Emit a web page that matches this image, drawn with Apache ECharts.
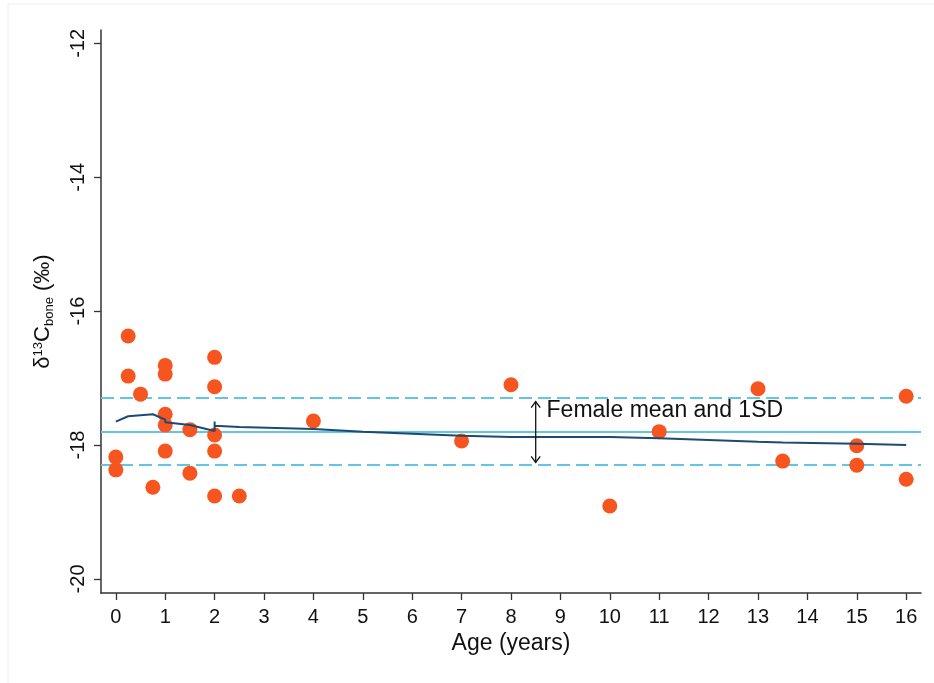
<!DOCTYPE html>
<html>
<head>
<meta charset="utf-8">
<script src="https://cdn.jsdelivr.net/npm/echarts@6/dist/echarts.min.js"></script>
<style>
  html, body { margin: 0; padding: 0; background: #fff; }
  #chart { width: 934px; height: 683px; }
</style>
</head>
<body>
<div id="chart"></div>
<script>
// individual measurements: [age (years), d13C bone]
const samples = [
  [0, -18.18], [0, -18.37], [0.25, -16.37], [0.25, -16.97], [0.5, -17.24],
  [0.75, -18.63], [1, -16.81], [1, -16.94], [1, -17.54], [1, -17.70],
  [1, -18.09], [1.5, -17.77], [1.5, -18.42], [2, -16.69], [2, -17.13],
  [2, -17.85], [2, -18.09], [2, -18.76], [2.5, -18.76], [4, -17.64],
  [7, -17.94], [8, -17.10], [10, -18.91], [11, -17.80], [13, -17.16],
  [13.5, -18.24], [15, -18.01], [15, -18.30], [16, -17.27], [16, -18.51]
]

// smoothed fit through the samples
const fitLine = [
  [0, -17.65], [0.25, -17.57], [0.75, -17.54], [1, -17.62], [1, -17.66],
  [1.5, -17.70], [1.5, -17.68], [2, -17.79], [2, -17.65], [2, -17.71],
  [2.5, -17.73], [4, -17.76], [5, -17.80], [7, -17.86], [8, -17.88],
  [10, -17.88], [11, -17.90], [13, -17.95], [13.5, -17.96], [15, -17.98],
  [16, -18.00]
]

// female reference
const femaleMean = -17.8
const femaleSD = 0.5

// annotation: double arrow + label
const arrowX = 8.5
const arrowEnds = [-17.35, -18.26]
const noteText = 'Female mean and 1SD'
const notePos = [8.72, -17.49]

const xTicks = [0, 1, 2, 3, 4, 5, 6, 7, 8, 9, 10, 11, 12, 13, 14, 15, 16]
const yTicks = [-20, -18, -16, -14, -12]

const chart = echarts.init(document.getElementById('chart'))

const font = 'Liberation Sans, Arial, Helvetica, sans-serif'
const axisColor = '#333'
const lightBlue = '#62c6e2'

function renderNote(params, api) {
  const top = api.coord([arrowX, arrowEnds[0]])
  const bot = api.coord([arrowX, arrowEnds[1]])
  const txt = api.coord(notePos)
  const h = 6, w = 4.5
  const st = { stroke: '#111', lineWidth: 1.3, fill: null }
  return {
    type: 'group',
    children: [
      { type: 'line', shape: { x1: top[0], y1: top[1], x2: bot[0], y2: bot[1] }, style: st },
      { type: 'polyline', shape: { points: [[top[0] - w, top[1] + h], [top[0], top[1]], [top[0] + w, top[1] + h]] }, style: st },
      { type: 'polyline', shape: { points: [[bot[0] - w, bot[1] - h], [bot[0], bot[1]], [bot[0] + w, bot[1] - h]] }, style: st },
      {
        type: 'text', x: txt[0], y: txt[1],
        style: { text: noteText, fill: '#111', font: '23px ' + font, textAlign: 'left', textVerticalAlign: 'middle' }
      }
    ]
  }
}

const option = {
  animation: false,
  backgroundColor: '#fff',
  graphic: [{
    type: 'rect', shape: { x: 8, y: 4, width: 940, height: 700 },
    style: { fill: null, stroke: '#eceef0', lineWidth: 1 }, silent: true
  }],
  grid: { left: 101, right: 13, top: 30, bottom: 90 },
  xAxis: {
    type: 'value',
    min: -0.3,
    max: 16.3,
    name: 'Age (years)',
    nameLocation: 'middle',
    nameGap: 39,
    nameTextStyle: { fontFamily: font, fontSize: 23, color: '#111' },
    axisLine: { onZero: false, lineStyle: { color: axisColor, width: 1.5 } },
    axisTick: { customValues: xTicks, length: 7, lineStyle: { color: axisColor, width: 1.3 } },
    axisLabel: { customValues: xTicks, fontFamily: font, fontSize: 20, color: '#111', margin: 14 },
    splitLine: { show: false }
  },
  yAxis: {
    type: 'value',
    min: -20.21,
    max: -11.8,
    name: '{a|δ}{sup|13}{a|C}{sub|bone}{a| (‰)}',
    nameLocation: 'middle',
    nameRotate: 90,
    nameGap: 43,
    nameTextStyle: {
      fontFamily: font, color: '#111',
      rich: {
        a: { fontFamily: font, fontSize: 22, color: '#111', lineHeight: 30, verticalAlign: 'middle' },
        sup: { fontFamily: font, fontSize: 13, color: '#111', lineHeight: 30, verticalAlign: 'top', padding: [4, 0, 0, 0] },
        sub: { fontFamily: font, fontSize: 13, color: '#111', lineHeight: 30, verticalAlign: 'bottom', padding: [0, 0, 2, 0] }
      }
    },
    axisLine: { onZero: false, lineStyle: { color: axisColor, width: 1.5 } },
    axisTick: { customValues: yTicks, length: 7, lineStyle: { color: axisColor, width: 1.3 } },
    axisLabel: { customValues: yTicks, rotate: 90, fontFamily: font, fontSize: 20, color: '#111', margin: 13 },
    splitLine: { show: false }
  },
  series: [
    {
      name: 'samples',
      type: 'scatter',
      data: samples,
      symbolSize: 15,
      itemStyle: { color: '#f75520', opacity: 1 },
      z: 3,
      markLine: {
        silent: true,
        symbol: 'none',
        label: { show: false },
        data: [
          { yAxis: femaleMean, lineStyle: { color: lightBlue, width: 2, type: 'solid' } },
          { yAxis: femaleMean + femaleSD, lineStyle: { color: lightBlue, width: 2, type: [13, 6] } },
          { yAxis: femaleMean - femaleSD, lineStyle: { color: lightBlue, width: 2, type: [13, 6] } }
        ],
        z: 1
      }
    },
    {
      name: 'fit',
      type: 'line',
      data: fitLine,
      showSymbol: false,
      symbol: 'none',
      lineStyle: { color: '#1d4a72', width: 2 },
      z: 4
    },
    {
      name: 'note',
      type: 'custom',
      data: [[arrowX, arrowEnds[0]]],
      renderItem: renderNote,
      silent: true,
      clip: false,
      z: 5
    }
  ]
}

chart.setOption(option)
</script>
</body>
</html>
